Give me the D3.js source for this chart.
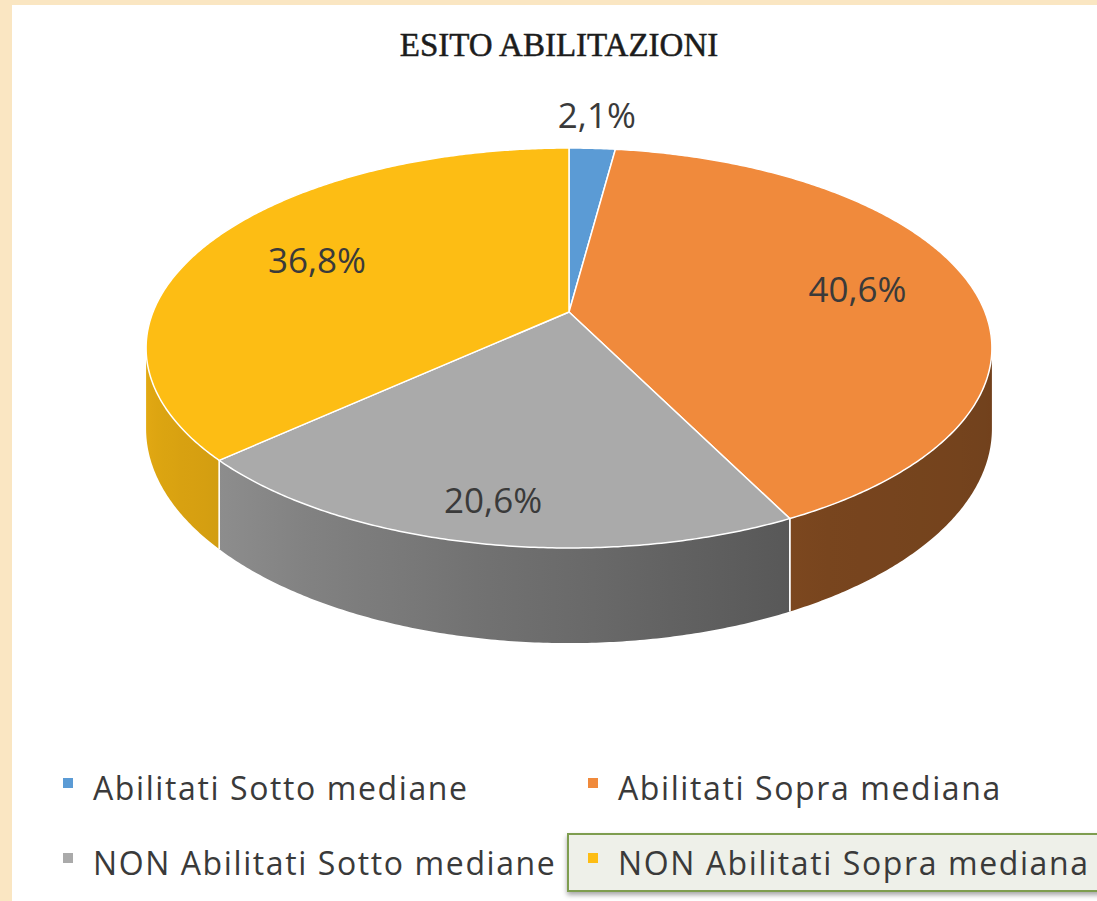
<!DOCTYPE html>
<html>
<head>
<meta charset="utf-8">
<script src="https://cdn.jsdelivr.net/npm/d3@7"></script>
<style>
  html, body { margin: 0; padding: 0; background: #fae6c2; }
  svg { display: block; }
</style>
</head>
<body>
<script>
// data
let categories = [
    "Abilitati Sotto mediane",
    "Abilitati Sopra mediana",
    "NON Abilitati Sotto mediane",
    "NON Abilitati Sopra mediana"
];
let values = [2.1, 40.6, 20.6, 36.8];
let colors = ["#5b9bd5", "#f08a3c", "#aaaaaa", "#fdbd14"];
let title = "ESITO ABILITAZIONI";

function main() {
    let W = 1097, H = 901;

    let svg = d3.select("body").append("svg")
        .attr("width", W)
        .attr("height", H);

    let defs = svg.append("defs");
    let shadow = defs.append("filter").attr("id", "shadow")
        .attr("x", "-5%").attr("y", "-20%").attr("width", "110%").attr("height", "160%");
    shadow.append("feDropShadow")
        .attr("dx", 0).attr("dy", 3).attr("stdDeviation", 2.5)
        .attr("flood-color", "#000").attr("flood-opacity", 0.35);

    // beige page + white chart area
    svg.append("rect").attr("width", W).attr("height", H).attr("fill", "#fae6c2");
    svg.append("rect").attr("x", 12).attr("y", 5).attr("width", W).attr("height", H)
        .attr("fill", "#ffffff");

    svg.append("text")
        .attr("x", 559)
        .attr("y", 56)
        .attr("text-anchor", "middle")
        .style("font-family", "'Liberation Serif', serif")
        .style("font-size", "33px")
        .style("fill", "#1c1c1c")
        .style("stroke", "#1c1c1c")
        .style("stroke-width", 0.5)
        .text(title);

    // 3d pie, projected with a bit of perspective
    let cx = 569, cy = 312, A = 416, B = 193.5, k = 0.18, depthH = 78;

    function proj(theta, r, depth) {
        let x = r * Math.sin(theta);
        let y = -r * Math.cos(theta);
        let f = 1 / (1 - k * y);
        return [cx + A * x * f, cy + (B * y + depthH * depth) * f];
    }

    let pie = d3.pie().sort(null).value(d => d).startAngle(0).endAngle(2 * Math.PI);
    let arcs = pie(values);

    // brightness of the side wall depends on the angle (lighter on the left)
    let shade = d3.scaleLinear()
        .domain([100, 150, 230, 260].map(d => d * Math.PI / 180))
        .range([0.47, 0.5, 0.84, 0.9])
        .clamp(true);

    let visStart = Math.acos(-k), visEnd = 2 * Math.PI - Math.acos(-k);
    let line = d3.line();

    let walls = svg.append("g");
    arcs.forEach((a, i) => {
        let s = Math.max(a.startAngle, visStart), e = Math.min(a.endAngle, visEnd);
        if (e <= s) return;
        let base = d3.rgb(colors[i]);
        let n = Math.ceil((e - s) / (0.5 * Math.PI / 180));
        let ts = d3.range(n + 1).map(j => s + (e - s) * j / n);

        // horizontal gradient following the angle
        let x0 = proj(s, 1, 0)[0], x1 = proj(e, 1, 0)[0];
        let grad = defs.append("linearGradient")
            .attr("id", "wall" + i)
            .attr("gradientUnits", "userSpaceOnUse")
            .attr("x1", x0).attr("y1", 0).attr("x2", x1).attr("y2", 0);
        d3.range(0, 11).forEach(j => {
            let t = s + (e - s) * j / 10;
            let px = proj(t, 1, 0)[0];
            let m = shade(t);
            grad.append("stop")
                .attr("offset", (px - x0) / (x1 - x0))
                .attr("stop-color", d3.rgb(base.r * m, base.g * m, base.b * m));
        });

        let pts = ts.map(t => proj(t, 1, 0)).concat(ts.slice().reverse().map(t => proj(t, 1, 1)));
        walls.append("path")
            .attr("d", line(pts) + "Z")
            .attr("fill", "url(#wall" + i + ")");

        // white seams between slices on the wall
        [a.startAngle, a.endAngle].forEach(t => {
            if (t > visStart && t < visEnd) {
                walls.append("path")
                    .attr("d", line([proj(t, 1, 0), proj(t, 1, 1)]))
                    .attr("stroke", "#ffffff")
                    .attr("stroke-width", 1.5);
            }
        });
    });

    // top faces
    let tops = svg.append("g");
    arcs.forEach((a, i) => {
        let pts = [[cx, cy]];
        let n = Math.max(4, Math.ceil((a.endAngle - a.startAngle) / (0.5 * Math.PI / 180)));
        for (let j = 0; j <= n; j++) {
            let t = a.startAngle + (a.endAngle - a.startAngle) * j / n;
            pts.push(proj(t, 1, 0));
        }
        tops.append("path")
            .attr("d", line(pts) + "Z")
            .attr("fill", colors[i])
            .attr("stroke", "#ffffff")
            .attr("stroke-width", 1.5)
            .attr("stroke-linejoin", "round");
    });

    // data labels
    let fmt = d3.formatLocale({ decimal: ",", thousands: ".", grouping: [3], currency: ["", "€"] })
        .format(".1f");
    let labelR = [1.245, 0.718, 0.843, 0.696];
    arcs.forEach((a, i) => {
        let p = proj((a.startAngle + a.endAngle) / 2, labelR[i], 0);
        svg.append("text")
            .attr("x", p[0])
            .attr("y", p[1])
            .attr("dy", "0.36em")
            .attr("text-anchor", "middle")
            .style("font-family", "'Open Sans', sans-serif")
            .style("font-size", "35px")
            .style("fill", "#3a3a3a")
            .text(fmt(values[i]) + "%");
    });

    // legend
    let colX = d3.scaleOrdinal().domain([0, 1]).range([63, 588]);
    let rowY = d3.scaleOrdinal().domain([0, 1]).range([800, 875]);

    svg.append("rect")
        .attr("x", 568).attr("y", 834)
        .attr("width", 560).attr("height", 57)
        .attr("fill", "#eef0e9")
        .attr("stroke", "#7e9d4f")
        .attr("stroke-width", 2)
        .attr("filter", "url(#shadow)");

    let legend = svg.append("g");
    categories.forEach((c, i) => {
        let x = colX(i % 2), y = rowY(Math.floor(i / 2));
        legend.append("rect")
            .attr("x", x).attr("y", y - 22)
            .attr("width", 10).attr("height", 10)
            .attr("fill", colors[i]);
        legend.append("text")
            .attr("x", x + 30)
            .attr("y", y)
            .style("font-family", "'Open Sans', sans-serif")
            .style("font-size", "32px")
            .style("letter-spacing", "1.6px")
            .style("fill", "#3a3a3a")
            .text(c);
    });
}

main()
</script>
</body>
</html>
